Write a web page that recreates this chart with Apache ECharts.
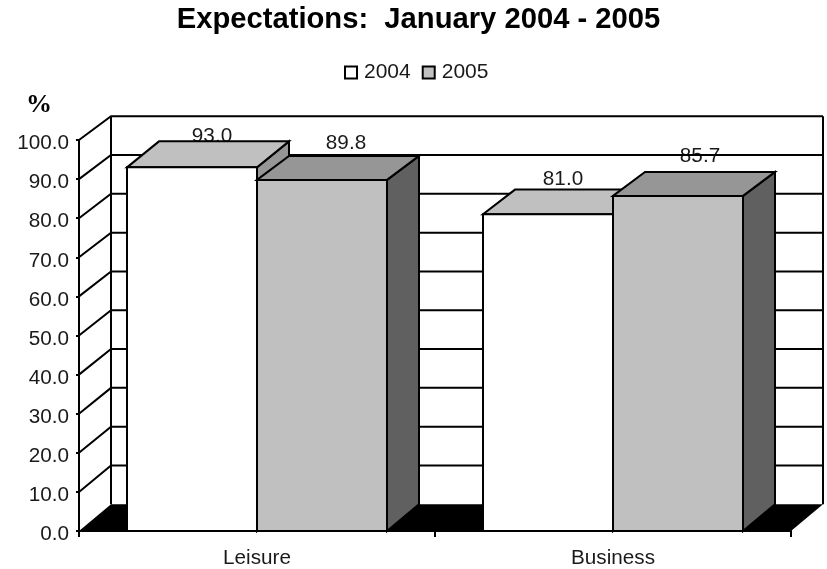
<!DOCTYPE html>
<html>
<head>
<meta charset="utf-8">
<style>html,body{margin:0;padding:0;background:#fff}#c{width:827px;height:569px}</style>
<script src="https://cdn.jsdelivr.net/npm/echarts@6/dist/echarts.min.js"></script>
</head>
<body>
<div id="c"></div>
<script>
const categories = ['Leisure', 'Business'];
const seriesNames = ['2004', '2005'];
const values2004 = [93.0, 81.0];
const values2005 = [89.8, 85.7];
const yTicks = [0, 10, 20, 30, 40, 50, 60, 70, 80, 90, 100];

const FONT = '"Liberation Sans", Arial, sans-serif';
const TXT = '#1a1a1a';
const FS = 20.7;
const DX = 32;
const backRise = v => 26.7 - 0.029 * v;
const barTopRise = [[26, 24.7], [24, 24]];
const labelOffsets = [[[20, -31], [15, -35]], [[24, -37], [22, -39.5]]];
const BAR_FRAC = 130 / 356;
const line = {stroke: '#000', lineWidth: 2, fill: null};

function poly(points, fill) {
  return {type: 'polygon', shape: {points}, style: {fill, stroke: '#000', lineWidth: 2, lineJoin: 'miter'}};
}
function barSeries(name, seriesIdx, values, cFront, cTop, cSide) {
  return {
    name, type: 'custom', z: 3 + seriesIdx, clip: false, silent: true,
    itemStyle: {color: cFront, borderColor: '#000', borderWidth: 2},
    data: values.map((v, i) => [i, v]),
    encode: {x: 0, y: 1},
    renderItem(params, api) {
      const cat = api.value(0), v = api.value(1);
      const c = api.coord([cat, v]), base = api.coord([cat, 0]);
      const w = api.size([1, 0])[0] * BAR_FRAC;
      const x0 = c[0] + (seriesIdx - 1) * w, x1 = x0 + w;
      const y = c[1], b = base[1];
      const rise = barTopRise[seriesIdx][cat], fr = backRise(0);
      return {type: 'group', children: [
        poly([[x1, y], [x1 + DX, y - rise], [x1 + DX, b - fr], [x1, b]], cSide),
        poly([[x0, y], [x0 + DX, y - rise], [x1 + DX, y - rise], [x1, y]], cTop),
        poly([[x0, y], [x1, y], [x1, b], [x0, b]], cFront)
      ]};
    }
  };
}
function labelSeries(seriesIdx, values) {
  return {
    name: 'labels' + seriesIdx, type: 'custom', z: 1, clip: false, silent: true,
    data: values.map((v, i) => [i, v]),
    encode: {x: 0, y: 1},
    renderItem(params, api) {
      const cat = api.value(0), v = api.value(1);
      const c = api.coord([cat, v]);
      const w = api.size([1, 0])[0] * BAR_FRAC;
      const off = labelOffsets[seriesIdx][cat];
      return {type: 'text', style: {
        x: c[0] + (seriesIdx - 0.5) * w + off[0], y: c[1] + off[1],
        text: v.toFixed(1), fill: TXT, font: FS + 'px ' + FONT, align: 'center', verticalAlign: 'middle'
      }};
    }
  };
}
const wallSeries = {
  name: 'walls', type: 'custom', z: 2, clip: false, silent: true,
  data: yTicks.map(t => [0, t]),
  encode: {x: 0, y: 1},
  renderItem(params, api) {
    const v = api.value(1);
    const band = api.size([1, 0])[0];
    const p = api.coord([0, v]);
    const xL = p[0] - band / 2, xR = xL + 2 * band;
    const yB = p[1] - backRise(v);
    const children = [];
    if (v === 0) {
      children.push({type: 'polygon', shape: {points: [[xL, p[1]], [xL + DX, yB], [xR + DX, yB], [xR, p[1]]]}, style: {fill: '#000'}});
      const yT = api.coord([0, 100]);
      const top = yT[1] - backRise(100);
      children.push({type: 'line', shape: {x1: xL + DX, y1: top, x2: xL + DX, y2: yB}, style: line});
      children.push({type: 'line', shape: {x1: xR + DX, y1: top, x2: xR + DX, y2: yB}, style: line});
    } else {
      children.push({type: 'polyline', shape: {points: [[xL, p[1]], [xL + DX, yB], [xR + DX, yB]]}, style: line});
    }
    return {type: 'group', children};
  }
};

const chart = echarts.init(document.getElementById('c'), null, {renderer: 'canvas'});
chart.setOption({
  animation: false,
  backgroundColor: '#fff',
  title: [
    {text: 'Expectations:  January 2004 - 2005', left: 413.5, textAlign: 'center', top: 0,
     textStyle: {fontFamily: FONT, fontWeight: 'bold', fontSize: 29.2, color: '#000'}},
    {text: '%', left: 21, top: 87, textStyle: {fontFamily: '"Liberation Serif", serif', fontWeight: 'bold', fontSize: 26, color: '#000'}}
  ],
  legend: {
    left: 339, top: 57, itemWidth: 12, itemHeight: 12, itemGap: 11, selectedMode: false,
    textStyle: {fontFamily: FONT, fontSize: 21, color: TXT, padding: [0, 0, 0, 2]},
    data: [
      {name: seriesNames[0], icon: 'rect', itemStyle: {color: '#fff', borderColor: '#000', borderWidth: 2}},
      {name: seriesNames[1], icon: 'rect', itemStyle: {color: '#c0c0c0', borderColor: '#000', borderWidth: 2}}
    ]
  },
  grid: {left: 79, top: 140, width: 712, height: 392, containLabel: false},
  xAxis: {
    type: 'category', data: categories, z: 10,
    axisLine: {lineStyle: {color: '#000', width: 2}},
    axisTick: {show: true, length: 6, alignWithLabel: false, lineStyle: {color: '#000', width: 2}},
    axisLabel: {fontFamily: FONT, fontSize: FS, color: TXT, margin: 17}
  },
  yAxis: {
    type: 'value', min: 0, max: 100, interval: 10, z: 10,
    axisLine: {show: true, lineStyle: {color: '#000', width: 2}},
    axisTick: {show: true, length: 3, lineStyle: {color: '#000', width: 2}},
    axisLabel: {fontFamily: FONT, fontSize: FS, color: TXT, margin: 10, verticalAlign: 'top', lineHeight: 7, formatter: v => v.toFixed(1)},
    splitLine: {show: false}
  },
  series: [
    labelSeries(0, values2004),
    labelSeries(1, values2005),
    wallSeries,
    barSeries(seriesNames[0], 0, values2004, '#ffffff', '#c0c0c0', '#969696'),
    barSeries(seriesNames[1], 1, values2005, '#c0c0c0', '#969696', '#606060')
  ]
});
</script>
</body>
</html>
